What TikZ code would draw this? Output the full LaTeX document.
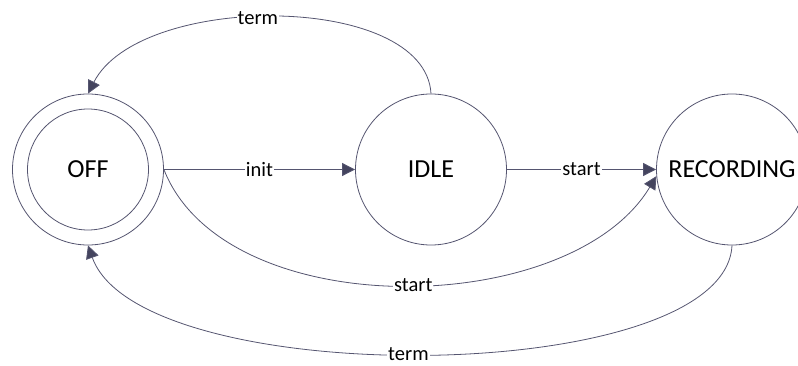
\documentclass[tikz,border=0pt]{standalone}
\usepackage{fontspec}
\setmainfont{Carlito}
\usetikzlibrary{arrows.meta}
\definecolor{edgecol}{HTML}{555570}
\definecolor{tipcol}{HTML}{44445E}
\begin{document}
\begin{tikzpicture}[x=1pt,y=-1pt,
  state/.style={circle, draw=edgecol, line width=0.8pt, minimum size=151pt,
    inner sep=0pt, font=\fontsize{26}{30}\selectfont},
  innerring/.style={state, minimum size=121pt},
  arr/.style={draw=edgecol, line width=0.8pt,
    -{Triangle[length=13pt,width=13pt,fill=tipcol]}},
  lbl/.style={fill=white, inner sep=1pt, font=\fontsize{20.5}{24}\selectfont}]
  \useasboundingbox (0,0) rectangle (798,366);
  \clip (0,0) rectangle (798,366);

  % states
  \node[state] (off) at (88,169.5) {};
  \node[innerring] (offin) at (off.center) {OFF};
  \node[state] (idle) at (431,169.5) {IDLE};
  \node[state] (rec) at (732,169.5) {RECORDING};

  % transitions
  \draw[arr] (off.east) -- node[lbl] {init} (idle.west);
  \draw[arr] (idle.east) -- node[lbl] {start} (rec.west);
  \draw[arr] (idle.north) .. controls (425,-8) and (140,-8) ..
    node[lbl,pos=0.54] {term} (off.north);
  \draw[arr] (off.east) .. controls (225,325) and (570,320) ..
    node[lbl,pos=0.52] {start} (rec.185);
  \draw[arr] (rec.south) .. controls (725,388) and (140,392) ..
    node[lbl,pos=0.52] {term} (off.south);
\end{tikzpicture}
\end{document}
